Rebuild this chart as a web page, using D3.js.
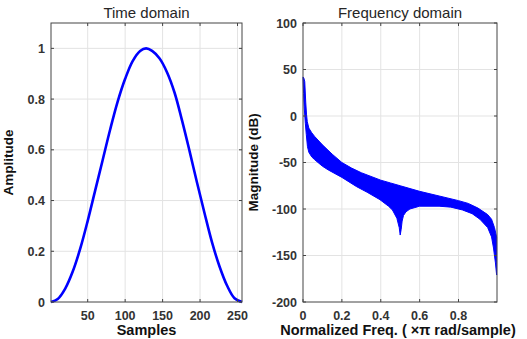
<!DOCTYPE html>
<html>
<head>
<meta charset="utf-8">
<script src="https://cdn.jsdelivr.net/npm/d3@7"></script>
<style>
  body { margin: 0; background: #fff; }
  svg { font-family: "Liberation Sans", Arial, sans-serif; }
  .tick-label { font-size: 12.5px; font-weight: bold; fill: #333; }
  .grid line { stroke: #e3e3e3; stroke-width: 1; }
</style>
</head>
<body>
<script>
// time domain: samples and window amplitude
var samples = [1, 10, 20, 30, 40, 50, 60, 70, 80, 90, 100, 110, 120, 128, 136, 146, 156, 166, 176, 186, 196, 206, 216, 226, 236, 246, 256];
var amplitude = [0, 0.012, 0.053, 0.12, 0.21, 0.32, 0.44, 0.56, 0.68, 0.79, 0.88, 0.95, 0.99, 1.0, 0.99, 0.96, 0.905, 0.825, 0.715, 0.595, 0.47, 0.35, 0.235, 0.14, 0.065, 0.015, 0];

// frequency domain: upper and lower envelope of the dense ripple band
var freqUpper = [0, 0.004, 0.009, 0.014, 0.018, 0.022, 0.03, 0.045, 0.06, 0.1, 0.15, 0.2, 0.25, 0.3, 0.35, 0.4, 0.45, 0.5, 0.6, 0.7, 0.8, 0.85, 0.9, 0.95, 0.97, 0.985, 0.996];
var dbUpper = [42, 41, 37, 15, 2, -6, -13, -18, -22, -31, -41, -50, -56, -61, -65, -69, -72, -75, -81, -86, -91, -94, -99, -106, -111, -120, -130];
var freqLower = [0, 0.003, 0.006, 0.012, 0.017, 0.023, 0.03, 0.045, 0.06, 0.1, 0.13, 0.2, 0.276, 0.33, 0.396, 0.44, 0.46, 0.483, 0.495, 0.5, 0.505, 0.51, 0.517, 0.53, 0.55, 0.6, 0.7, 0.76, 0.82, 0.87, 0.91, 0.95, 0.97, 0.98, 0.99, 0.996];
var dbLower = [42, 24, 10, -8, -20, -33, -39, -44, -47, -54, -58, -66, -76, -82, -90, -97, -101, -110, -120, -128, -122, -113, -107, -103, -100, -97, -97, -98, -101, -105, -111, -120, -130, -142, -158, -171];

var timeTicksX = [50, 100, 150, 200, 250];
var timeTicksY = [0, 0.2, 0.4, 0.6, 0.8, 1];
var freqTicksX = [0, 0.2, 0.4, 0.6, 0.8];
var freqTicksY = [-200, -150, -100, -50, 0, 50, 100];

var svg = d3.select("body").append("svg").attr("width", 527).attr("height", 339);

function grid(box, x, y, xt, yt) {
  var g = svg.append("g");
  g.append("g").attr("class", "grid").selectAll("line")
    .data(xt.filter(function(d) { return x(d) > box.left + 1 && x(d) < box.right - 1; }))
    .enter().append("line")
    .attr("x1", function(d) { return x(d); }).attr("x2", function(d) { return x(d); })
    .attr("y1", box.top).attr("y2", box.bottom);
  g.append("g").attr("class", "grid").selectAll("line")
    .data(yt.filter(function(d) { return y(d) > box.top + 1 && y(d) < box.bottom - 1; }))
    .enter().append("line")
    .attr("y1", function(d) { return y(d); }).attr("y2", function(d) { return y(d); })
    .attr("x1", box.left).attr("x2", box.right);
  return g;
}

function frame(g, box, x, y, xt, yt) {
  g.append("rect").attr("x", box.left).attr("y", box.top)
    .attr("width", box.right - box.left).attr("height", box.bottom - box.top)
    .attr("fill", "none").attr("stroke", "#444").attr("stroke-width", 1);
  xt.forEach(function(d) {
    g.append("line").attr("x1", x(d)).attr("x2", x(d)).attr("y1", box.bottom).attr("y2", box.bottom - 3).attr("stroke", "#444");
    g.append("line").attr("x1", x(d)).attr("x2", x(d)).attr("y1", box.top).attr("y2", box.top + 3).attr("stroke", "#444");
  });
  yt.forEach(function(d) {
    g.append("line").attr("y1", y(d)).attr("y2", y(d)).attr("x1", box.left).attr("x2", box.left + 3).attr("stroke", "#444");
    g.append("line").attr("y1", y(d)).attr("y2", y(d)).attr("x1", box.right).attr("x2", box.right - 3).attr("stroke", "#444");
  });
}

function labels(g, box, x, y, xt, yt, xfmt, yfmt, title, xlabel, ylabel, ylabelX, xlabelX) {
  g.selectAll("text.xt").data(xt).enter().append("text")
    .attr("class", "tick-label").attr("x", function(d) { return x(d); }).attr("y", box.bottom + 18)
    .attr("text-anchor", "middle").text(xfmt);
  g.selectAll("text.yt").data(yt).enter().append("text")
    .attr("class", "tick-label").attr("x", box.left - 6).attr("y", function(d) { return y(d) + 4.5; })
    .attr("text-anchor", "end").text(yfmt);
  g.append("text").attr("x", (box.left + box.right) / 2).attr("y", 18)
    .attr("text-anchor", "middle").attr("font-size", 15).attr("fill", "#262626").text(title);
  g.append("text").attr("x", xlabelX).attr("y", 335)
    .attr("text-anchor", "middle").attr("font-size", 14.5).attr("font-weight", "bold").attr("fill", "#111").text(xlabel);
  g.append("text").attr("transform", "translate(" + ylabelX + "," + ((box.top + box.bottom) / 2) + ") rotate(-90)")
    .attr("text-anchor", "middle").attr("font-size", 13.5).attr("font-weight", "bold").attr("fill", "#111").text(ylabel);
}

// ---- time domain
var boxT = {left: 51, right: 242, top: 23, bottom: 302};
var xT = d3.scaleLinear().domain([1, 256]).range([boxT.left, boxT.right]);
var yT = d3.scaleLinear().domain([0, 1.1]).range([boxT.bottom, boxT.top]);
var gT = grid(boxT, xT, yT, timeTicksX, timeTicksY);

var timeData = samples.map(function(s, i) { return [s, amplitude[i]]; });
gT.append("path").datum(timeData)
  .attr("fill", "none").attr("stroke", "#0000ff").attr("stroke-width", 2.6)
  .attr("d", d3.line().x(function(d) { return xT(d[0]); }).y(function(d) { return yT(d[1]); }).curve(d3.curveCatmullRom));
frame(gT, boxT, xT, yT, timeTicksX, timeTicksY);
labels(gT, boxT, xT, yT, timeTicksX, timeTicksY, function(d) { return d; }, function(d) { return d; },
  "Time domain", "Samples", "Amplitude", 13, (boxT.left + boxT.right) / 2);

// ---- frequency domain
var boxF = {left: 303, right: 497, top: 23, bottom: 302};
var xF = d3.scaleLinear().domain([0, 0.998]).range([boxF.left, boxF.right]);
var yF = d3.scaleLinear().domain([-200, 100]).range([boxF.bottom, boxF.top]);
var gF = grid(boxF, xF, yF, freqTicksX, freqTicksY);

var upper = freqUpper.map(function(f, i) { return [f, dbUpper[i]]; });
var lower = freqLower.map(function(f, i) { return [f, dbLower[i]]; }).reverse();
var band = d3.line().x(function(d) { return xF(d[0]); }).y(function(d) { return yF(d[1]); });
gF.append("path")
  .attr("fill", "#0000ff").attr("stroke", "#0000ff").attr("stroke-width", 1)
  .attr("d", band(upper.concat(lower)) + "Z");
frame(gF, boxF, xF, yF, freqTicksX, freqTicksY);
labels(gF, boxF, xF, yF, freqTicksX, freqTicksY, function(d) { return d === 0 ? "0" : d3.format(".1f")(d); }, function(d) { return d; },
  "Frequency domain", "Normalized Freq. ( \u00d7\u03c0 rad/sample)", "Magnitude (dB)", 258, 398);
</script>
</body>
</html>
